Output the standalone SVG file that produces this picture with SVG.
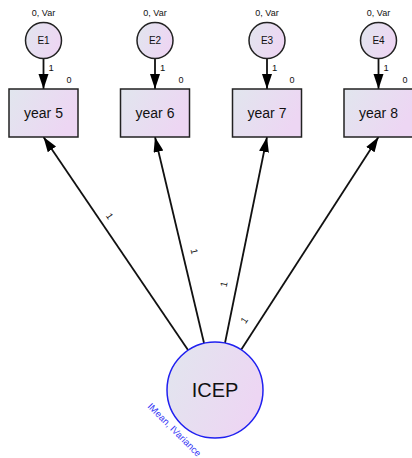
<svg xmlns="http://www.w3.org/2000/svg" width="412" height="458" viewBox="0 0 412 458">
<defs>
<linearGradient id="g" x1="0" y1="0" x2="1" y2="0.4">
<stop offset="0" stop-color="#e1e6ee"/>
<stop offset="1" stop-color="#edd6f3"/>
</linearGradient>
<marker id="ah" markerUnits="userSpaceOnUse" markerWidth="16" markerHeight="12" refX="15" refY="5" orient="auto">
<path d="M0,0 L15,5 L0,10 Z" fill="#000"/>
</marker>
<style>
text{font-family:"Liberation Sans",Arial,sans-serif;fill:#111}
.box{fill:url(#g);stroke:#222;stroke-width:1.5}
.err{fill:url(#g);stroke:#222;stroke-width:1.5}
.edge{stroke:#111;stroke-width:1.8;fill:none;marker-end:url(#ah)}
.small{font-size:9px}
.lbl{font-size:14px}
.elab{font-size:10px}
.w{font-size:9.5px}
</style>
</defs>
<g id="connectors">
<line class="edge" x1="43.5" y1="58" x2="43.5" y2="89"/>
<line class="edge" x1="155" y1="58" x2="155" y2="89"/>
<line class="edge" x1="267" y1="58" x2="267" y2="89"/>
<line class="edge" x1="378.5" y1="58" x2="378.5" y2="89"/>
<line class="edge" x1="188" y1="350" x2="43.5" y2="137"/>
<line class="edge" x1="204" y1="343" x2="155" y2="137"/>
<line class="edge" x1="225" y1="343" x2="267" y2="137"/>
<line class="edge" x1="241" y1="350" x2="378.5" y2="137"/>
<text class="w" x="48.5" y="71">1</text>
<text class="w" x="160" y="71">1</text>
<text class="w" x="272" y="71">1</text>
<text class="w" x="383.5" y="71">1</text>
<text class="w" text-anchor="middle" transform="translate(107,218) rotate(56)">1</text>
<text class="w" text-anchor="middle" transform="translate(191,252) rotate(77)">1</text>
<text class="w" text-anchor="middle" transform="translate(227,285) rotate(-78)">1</text>
<text class="w" text-anchor="middle" transform="translate(247,322) rotate(-57)">1</text>
</g>
<g id="E1">
<text class="small" x="43.5" y="16" text-anchor="middle">0, Var</text>
<circle class="err" cx="43.5" cy="40.5" r="18"/>
<text class="elab" x="43.5" y="44" text-anchor="middle">E1</text>
</g>
<g id="E2">
<text class="small" x="155" y="16" text-anchor="middle">0, Var</text>
<circle class="err" cx="155" cy="40.5" r="18"/>
<text class="elab" x="155" y="44" text-anchor="middle">E2</text>
</g>
<g id="E3">
<text class="small" x="267" y="16" text-anchor="middle">0, Var</text>
<circle class="err" cx="267" cy="40.5" r="18"/>
<text class="elab" x="267" y="44" text-anchor="middle">E3</text>
</g>
<g id="E4">
<text class="small" x="378.5" y="16" text-anchor="middle">0, Var</text>
<circle class="err" cx="378.5" cy="40.5" r="18"/>
<text class="elab" x="378.5" y="44" text-anchor="middle">E4</text>
</g>
<g id="year5">
<text class="small" x="69" y="83" text-anchor="middle">0</text>
<rect class="box" x="9" y="89" width="69" height="48"/>
<text class="lbl" x="43.5" y="118" text-anchor="middle">year 5</text>
</g>
<g id="year6">
<text class="small" x="181" y="83" text-anchor="middle">0</text>
<rect class="box" x="120.5" y="89" width="69" height="48"/>
<text class="lbl" x="155" y="118" text-anchor="middle">year 6</text>
</g>
<g id="year7">
<text class="small" x="292" y="83" text-anchor="middle">0</text>
<rect class="box" x="232.5" y="89" width="69" height="48"/>
<text class="lbl" x="267" y="118" text-anchor="middle">year 7</text>
</g>
<g id="year8">
<text class="small" x="405" y="83" text-anchor="middle">0</text>
<rect class="box" x="344" y="89" width="69" height="48"/>
<text class="lbl" x="378.5" y="118" text-anchor="middle">year 8</text>
</g>
<g id="ICEP">
<circle cx="215" cy="390" r="48" fill="url(#g)" stroke="#2020f0" stroke-width="1.5"/>
<text x="215" y="397" text-anchor="middle" style="font-size:20px">ICEP</text>
<text transform="translate(147,407) rotate(45)" style="font-size:9.5px;fill:#3535f5">IMean, IVariance</text>
</g>
</svg>
